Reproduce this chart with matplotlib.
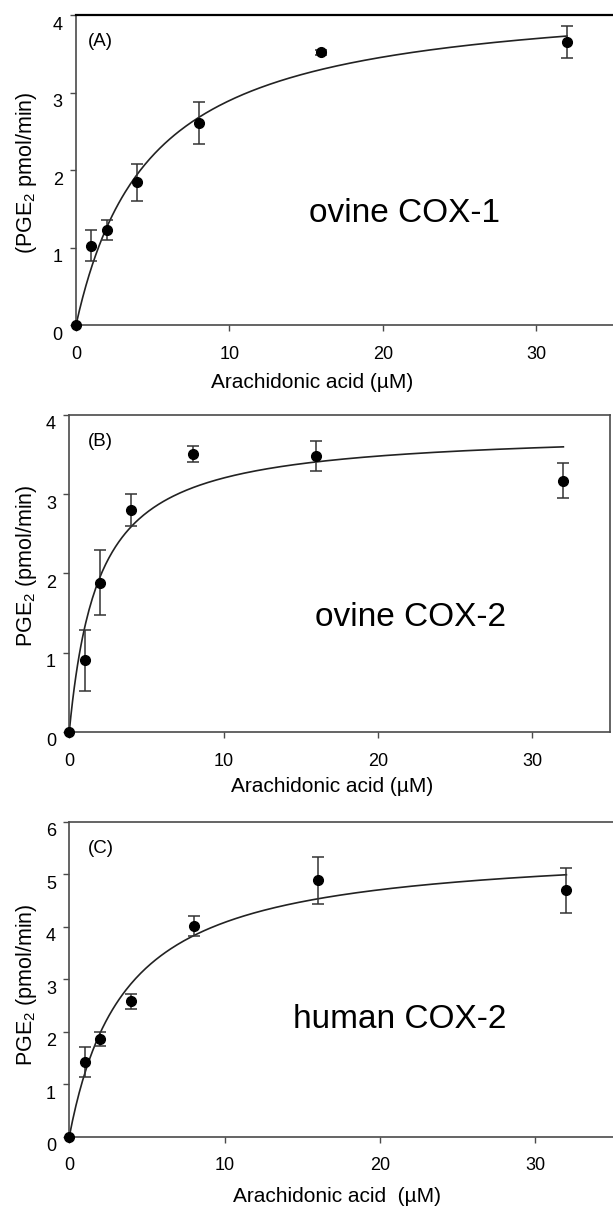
import matplotlib
matplotlib.use('Agg')
import matplotlib.pyplot as plt
import matplotlib.transforms as mtransforms
import numpy as np

# Données
conc = [0, 1, 2, 4, 8, 16, 32]  # acide arachidonique (µM)

cox1_ovine = [0, 1.02, 1.23, 1.84, 2.61, 3.52, 3.65]
cox1_ovine_err = [0, 0.20, 0.13, 0.24, 0.27, 0.03, 0.21]

cox2_ovine = [0, 0.90, 1.88, 2.80, 3.51, 3.48, 3.17]
cox2_ovine_err = [0, 0.39, 0.41, 0.20, 0.10, 0.19, 0.22]

cox2_human = [0, 1.42, 1.86, 2.58, 4.02, 4.88, 4.69]
cox2_human_err = [0, 0.28, 0.14, 0.14, 0.19, 0.45, 0.43]

# Paramètres Michaelis-Menten (Vmax, Km) des courbes ajustées
fit_params = [(4.29, 4.81), (3.81, 1.89), (5.55, 3.60)]

panel_letters = ['(A)', '(B)', '(C)']
enzyme_names = ['ovine COX-1', 'ovine COX-2', 'human COX-2']
y_labels = [r'(PGE$_\mathrm{2}$ pmol/min)', r'PGE$_\mathrm{2}$ (pmol/min)', r'PGE$_\mathrm{2}$ (pmol/min)']
x_labels = ['Arachidonic acid (µM)', 'Arachidonic acid (µM)', 'Arachidonic acid  (µM)']
y_max = [4, 4, 6]

plt.rcParams['font.family'] = ['Liberation Sans', 'DejaVu Sans']
plt.rcParams['mathtext.fontset'] = 'custom'
plt.rcParams['mathtext.rm'] = 'Liberation Sans'
plt.rcParams['mathtext.it'] = 'Liberation Sans:italic'

fig = plt.figure(figsize=(6.13, 12.06), dpi=100)

# Positions des axes (en fraction de la figure)
positions = [
    [0.124, 0.7305, 0.876, 0.2570],
    [0.113, 0.3933, 0.8816, 0.2626],
    [0.113, 0.0575, 0.887, 0.2612],
]
ylabel_pos = [(-0.092, 0.49), (-0.080, 0.525), (-0.079, 0.484)]
xlabel_pos = [(0.44, -0.187), (0.487, -0.174), (0.492, -0.19)]
letter_x = [0.8, 1.2, 1.2]
name_pos = [(15.2, 1.33), (15.9, 1.34), (14.4, 2.07)]

all_y = [cox1_ovine, cox2_ovine, cox2_human]
all_err = [cox1_ovine_err, cox2_ovine_err, cox2_human_err]

spine_col = '#4a4a4a'

for i in range(3):
    ax = fig.add_axes(positions[i])
    ax.set_xlim(0, 35)
    ax.set_ylim(0, y_max[i])

    # Courbe ajustée
    vmax, km = fit_params[i]
    xs = np.linspace(0, 32, 300)
    ax.plot(xs, vmax * xs / (km + xs), color='#222222', lw=1.2, zorder=2)

    # Points expérimentaux avec barres d'erreur
    ax.errorbar(conc[1:], all_y[i][1:], yerr=all_err[i][1:], fmt='none',
                ecolor='#333333', elinewidth=1.1, capsize=4.5, capthick=1.1, zorder=3)
    ax.plot(conc, all_y[i], 'o', color='black', markersize=7, zorder=4, clip_on=False)

    # Cadre
    for s in ['left', 'bottom', 'top', 'right']:
        ax.spines[s].set_color(spine_col)
        ax.spines[s].set_linewidth(1.2)
    if i == 0:
        ax.spines['top'].set_color('black')
        ax.spines['top'].set_linewidth(1.6)
    if i != 1:
        ax.spines['right'].set_visible(False)

    ax.set_xticks([0, 10, 20, 30])
    ax.set_yticks(range(0, y_max[i] + 1))
    ax.tick_params(axis='both', direction='out', length=4, width=1, color=spine_col,
                   labelsize=13)
    ax.tick_params(axis='x', pad=11)
    ax.tick_params(axis='y', pad=5.5)
    # les étiquettes de l'axe y sont un peu décalées vers le bas
    offset = mtransforms.ScaledTranslation(0, -8 / 100, fig.dpi_scale_trans)
    for lab in ax.get_yticklabels():
        lab.set_transform(lab.get_transform() + offset)

    ax.set_ylabel(y_labels[i], fontsize=15.5)
    ax.yaxis.set_label_coords(*ylabel_pos[i])
    ax.yaxis.label.set_va('center')
    ax.set_xlabel(x_labels[i], fontsize=15)
    ax.xaxis.set_label_coords(*xlabel_pos[i])
    ax.xaxis.label.set_va('center')

    ax.text(letter_x[i], y_max[i] * 0.915, panel_letters[i], fontsize=13.5, va='center', ha='left')
    ax.text(name_pos[i][0], name_pos[i][1], enzyme_names[i], fontsize=24, va='baseline', ha='left')

plt.savefig('out.png', dpi=100)
plt.close()
